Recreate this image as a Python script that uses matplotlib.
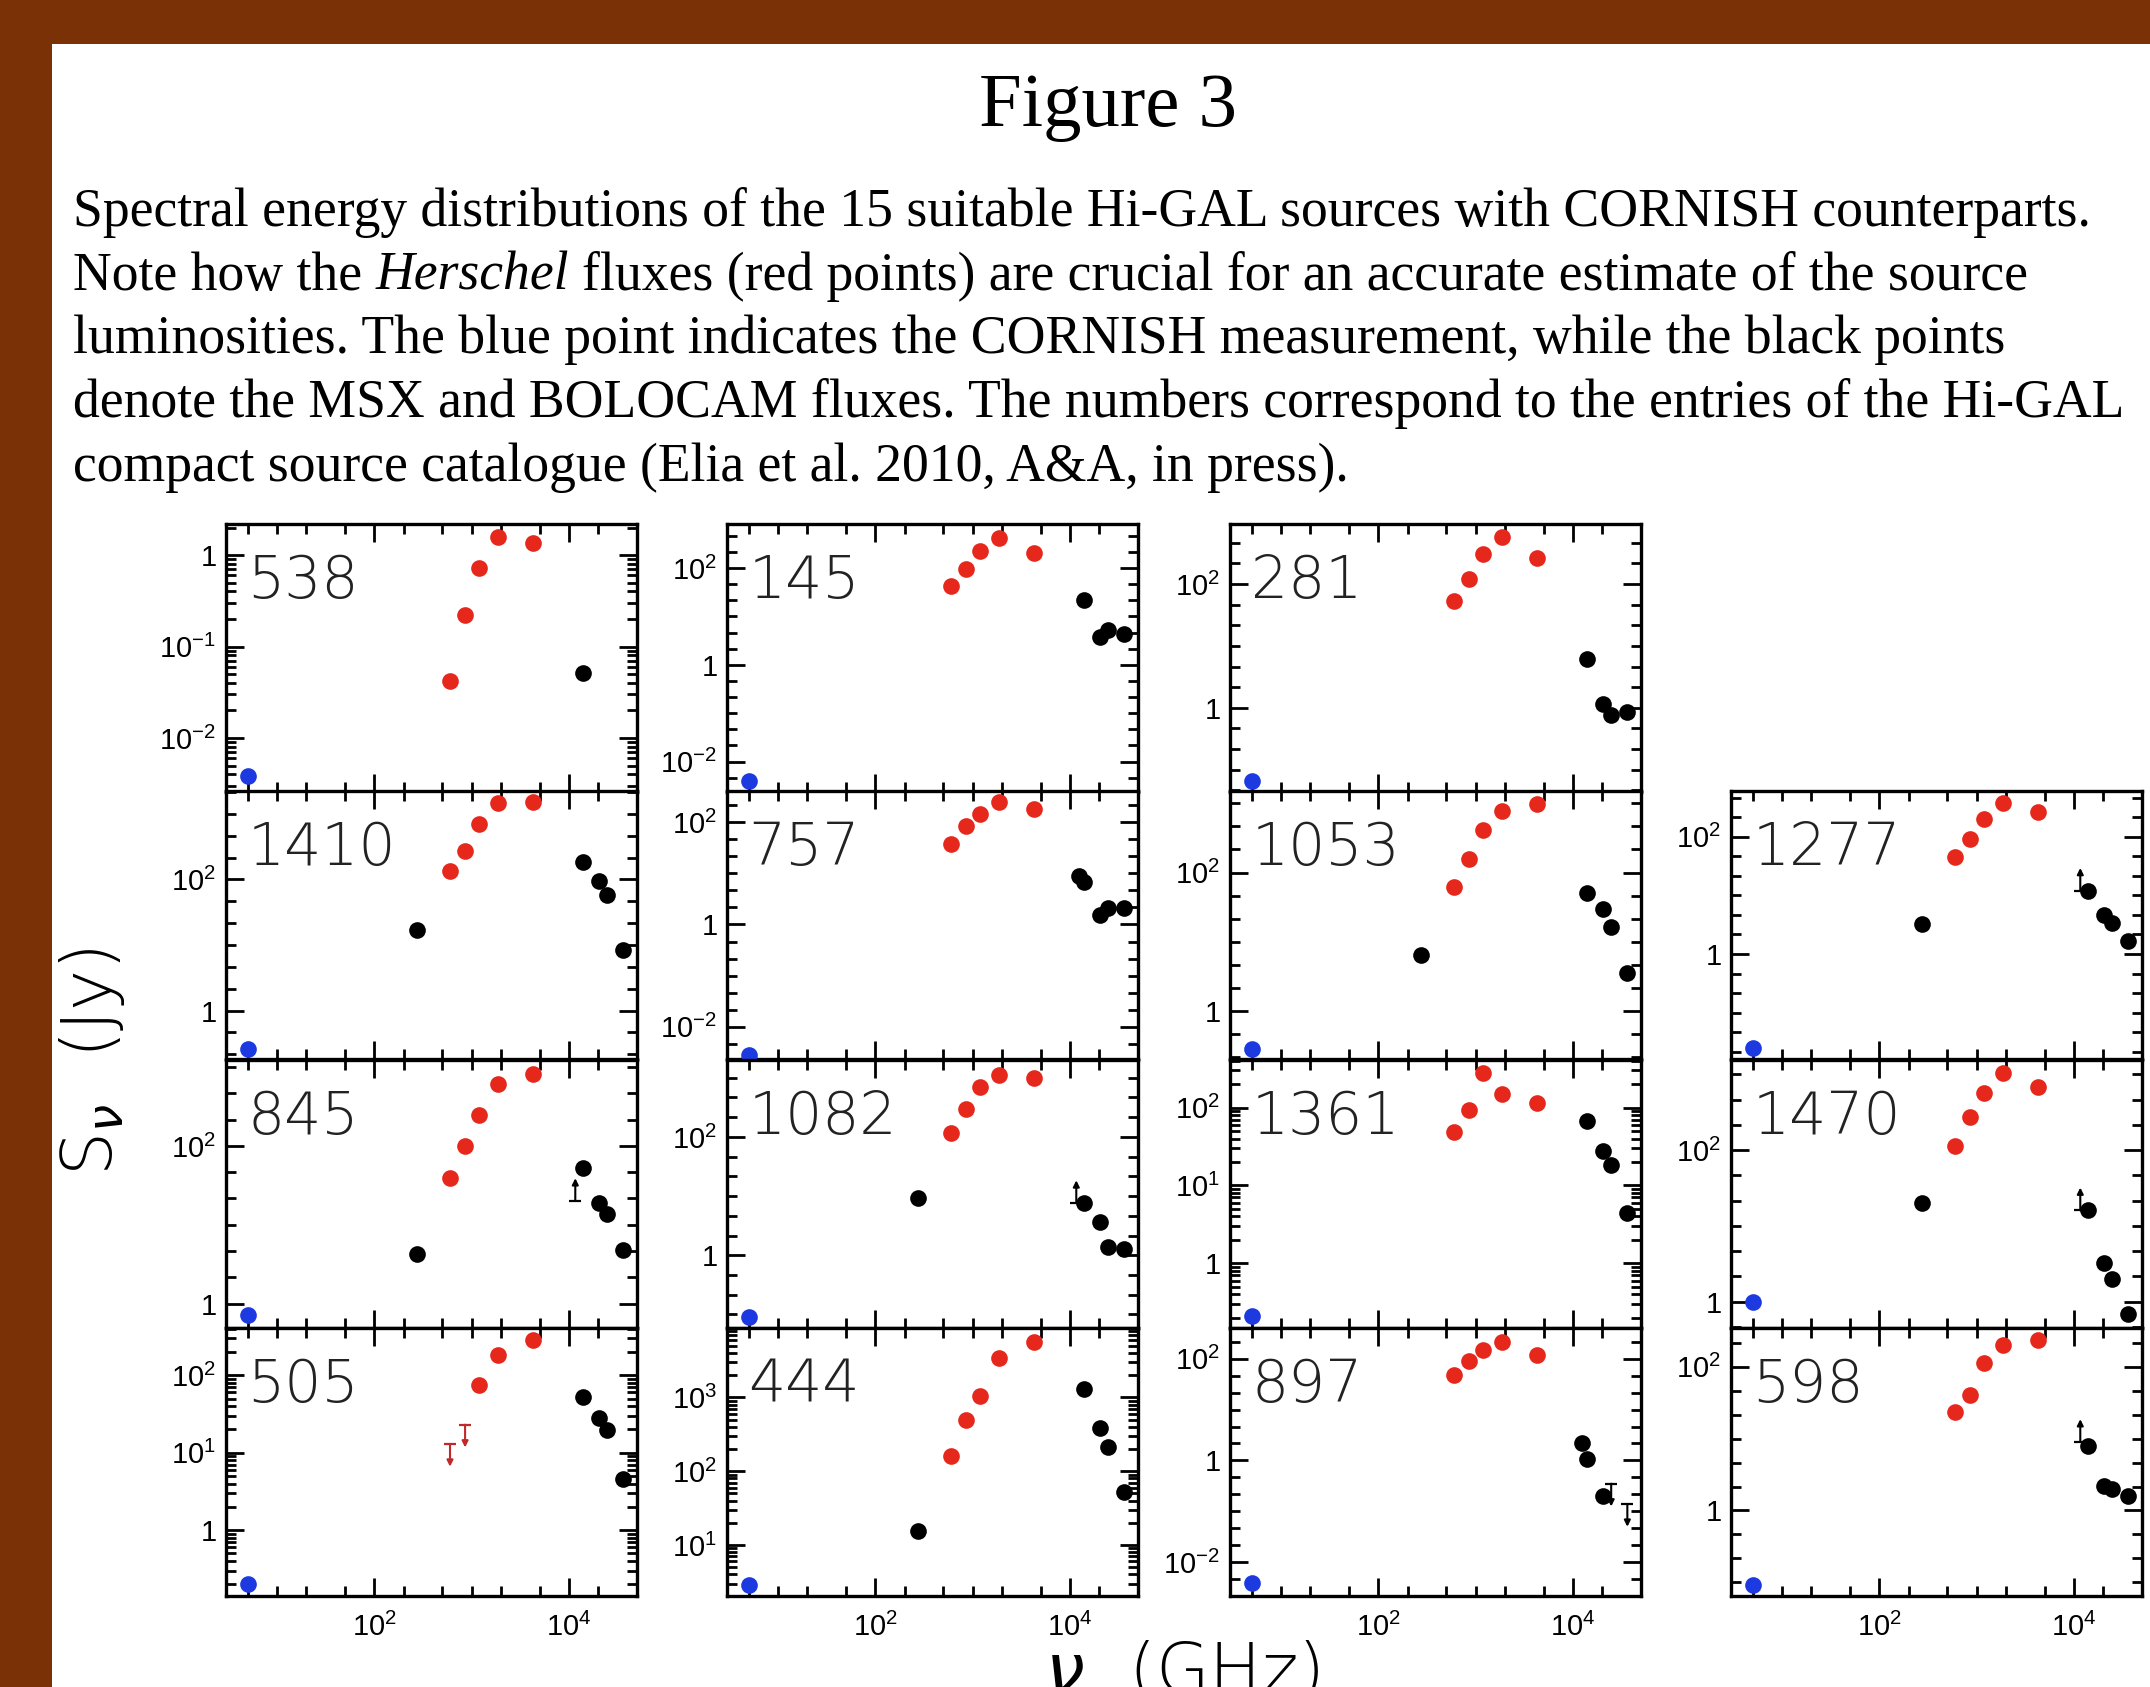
import numpy as np
import matplotlib
matplotlib.use("Agg")
import matplotlib.pyplot as plt
from matplotlib.ticker import FixedLocator, FuncFormatter, NullFormatter
from matplotlib.patches import Rectangle

# ------------------------------------------------------------------ data
SOURCES = [538, 145, 281, 1410, 757, 1053, 1277, 845, 1082, 1361, 1470, 505, 444, 897, 598]

FREQ_CORNISH = 5.0                                  # GHz
FREQ_HERSCHEL = [600, 857, 1199, 1874, 4283]        # 500,350,250,160,70 um
FREQ_BOLOCAM = 273                                  # 1.1 mm
FREQ_MIPS = 12490                                   # 24 um
FREQ_MSX = [14100, 20500, 24700, 36200]             # 21,15,12,8 um

CORNISH_FLUX = [0.0038, 0.0039, 0.065, 0.26, 0.0028, 0.28, 0.025,
                0.71, 0.091, 0.21, 1.0, 0.2, 2.9, 0.004, 0.091]

HERSCHEL_FLUX = [
    [0.042, 0.22, 0.73, 1.58, 1.36],     # 538
    [42, 97, 227, 426, 208],             # 145
    [53, 122, 310, 570, 265],            # 281
    [137, 275, 700, 1450, 1500],         # 1410
    [38, 85, 143, 243, 185],             # 757
    [62, 156, 410, 765, 990],            # 1053
    [45, 92, 202, 378, 269],             # 1277
    [39, 100, 250, 610, 810],            # 845
    [118, 295, 690, 1130, 990],          # 1082
    [48, 92, 277, 150, 113],             # 1361
    [112, 272, 570, 1030, 690],          # 1470
    [None, None, 74, 185, 285],          # 505
    [161, 490, 1040, 3370, 5600],        # 444
    [48, 91, 145, 210, 120],             # 897
    [23.6, 41, 112, 204, 233],           # 598
]
HERSCHEL_UPPER = [None] * 11 + [[13, 23, None, None, None]] + [None] * 3

BOLOCAM_FLUX = [None, None, None, 17, None, 6.4, 3.2, 4.2, 9.1, None, 20, None, 15.5, None, None]
MIPS_FLUX = [None, None, None, None, 8.9, None, None, None, None, None, None, None, None, 2.2, None]
MIPS_LOWER = [None, None, None, None, None, None, 12, 20, 7.6, None, 16, None, None, None, 9.0]

MSX_FLUX = [
    [0.051, None, None, None],           # 538
    [22, 3.8, 5.3, 4.3],                 # 145
    [6.1, 1.15, 0.76, 0.87],             # 281
    [187, 94, 57, 8.3],                  # 1410
    [6.9, 1.5, 2.1, 2.1],                # 757
    [50, 30, 16, 3.5],                   # 1053
    [12, 4.6, 3.4, 1.7],                 # 1277
    [52, 19, 13.5, 4.8],                 # 845
    [7.6, 3.6, 1.38, 1.28],              # 1082
    [67, 28, 18.4, 4.4],                 # 1361
    [16, 3.2, 2.0, 0.69],                # 1470
    [52, 28, 19.6, 4.6],                 # 505
    [1290, 385, 215, 53],                # 444
    [1.07, 0.20, None, None],            # 897
    [8.0, 2.2, 2.0, 1.6],                # 598
]
MSX_UPPER = [None] * 13 + [[None, None, 0.35, 0.14]] + [None]

# y ranges (log10) and labelled decades of every panel
YLIM_LOG = [(-2.59, 0.34), (-2.63, 2.91), (-1.36, 2.97), (-0.74, 3.35), (-2.63, 2.61),
            (-0.70, 3.18), (-1.79, 2.78), (-0.31, 3.09), (-1.23, 3.30), (-0.83, 2.61),
            (-0.35, 3.19), (-0.85, 2.61), (0.31, 3.94), (-2.66, 2.60), (-1.19, 2.54)]
YLABEL_DECADES = [[-2, -1, 0], [-2, 0, 2], [0, 2], [0, 2], [-2, 0, 2], [0, 2], [0, 2], [0, 2],
                  [0, 2], [0, 1, 2], [0, 2], [0, 1, 2], [1, 2, 3], [-2, 0, 2], [0, 2]]
XLIM = (3.0, 5.0e4)
X_MAJOR = [1e2, 1e4]
X_MINOR = [5, 10, 20, 50, 200, 500, 1e3, 2e3, 5e3, 2e4]

TITLE = "Figure 3"
CAPTION = [
    "Spectral energy distributions of the 15 suitable Hi-GAL sources with CORNISH counterparts.",
    ("Note how the", "Herschel", "fluxes (red points) are crucial for an accurate estimate of the source"),
    "luminosities. The blue point indicates the CORNISH measurement, while the black points",
    "denote the MSX and BOLOCAM fluxes. The numbers correspond to the entries of the Hi-GAL",
    "compact source catalogue (Elia et al. 2010, A&A, in press).",
]

# ------------------------------------------------------------------ style / layout
W, H = 2150, 1687
RED, BLUE, BLACK = "#e6281c", "#1c3ae0", "#000000"
BG = "#7a3106"
COL_LEFT = [226, 727, 1230, 1731]
ROW_TOP = [524, 791, 1060, 1328]
PW, PH = 411, 268
SLOTS = [(0, 0), (0, 1), (0, 2), (1, 0), (1, 1), (1, 2), (1, 3), (2, 0), (2, 1), (2, 2), (2, 3),
         (3, 0), (3, 1), (3, 2), (3, 3)]

plt.rcParams["mathtext.fontset"] = "dejavusans"

fig = plt.figure(figsize=(W / 100, H / 100), dpi=100)
fig.patch.set_facecolor(BG)
fig.add_artist(Rectangle((52 / W, 0), 1 - 52 / W, 1 - 44 / H, transform=fig.transFigure,
                         facecolor="white", edgecolor="none", zorder=0))

renderer = fig.canvas.get_renderer()
SERIF = "Liberation Serif"

# title
tt = fig.text(1108 / W, 1 - 126 / H, TITLE, family=SERIF, fontsize=56, ha="center", va="baseline")
tw = tt.get_window_extent(renderer).width
tt.set_fontsize(56 * 258 / tw)

# caption
x0 = 73
baselines = [226, 290, 353, 417, 481]
probe = fig.text(0, 0, CAPTION[0], family=SERIF, fontsize=36)
cfs = 36 * 2014 / probe.get_window_extent(renderer).width
probe.remove()


def twidth(s, **kw):
    t = fig.text(0, 0, s, family=SERIF, fontsize=cfs, **kw)
    w = t.get_window_extent(renderer).width
    t.remove()
    return w


space_w = twidth("a a") - twidth("aa")
for line, yb in zip(CAPTION, baselines):
    if isinstance(line, tuple):
        xx = x0
        for k, piece in enumerate(line):
            style = "italic" if k == 1 else "normal"
            fig.text(xx / W, 1 - yb / H, piece, family=SERIF, fontsize=cfs, style=style,
                     va="baseline")
            xx += twidth(piece, style=style) + space_w
    else:
        fig.text(x0 / W, 1 - yb / H, line, family=SERIF, fontsize=cfs, va="baseline")


def pow_fmt(v, pos=None):
    k = int(round(np.log10(v)))
    if k == 0:
        return r"$\mathregular{1}$"
    return r"$\mathregular{10^{%d}}$" % k


def limit_arrow(ax, x, y, up, color, span):
    d = 0.085 * span
    tip = y * 10 ** (d if up else -d)
    ax.annotate("", xy=(x, tip), xytext=(x, y),
                arrowprops=dict(arrowstyle="-|>", color=color, lw=1.5, mutation_scale=9,
                                shrinkA=0, shrinkB=0), annotation_clip=False, zorder=4)
    ax.plot([x], [y], marker="_", ms=8, mew=1.6, color=color, zorder=4, clip_on=False)


TICKFONT = "Liberation Sans"
NUMFONT = "DejaVu Sans"

for i, src in enumerate(SOURCES):
    r, c = SLOTS[i]
    left, top = COL_LEFT[c], ROW_TOP[r]
    ax = fig.add_axes([left / W, 1 - (top + PH) / H, PW / W, PH / H])
    ax.set_xscale("log")
    ax.set_yscale("log")
    lo, hi = YLIM_LOG[i]
    ax.set_xlim(*XLIM)
    ax.set_ylim(10 ** lo, 10 ** hi)
    span = hi - lo
    ms = 12

    # Herschel
    hx = [f for f, v in zip(FREQ_HERSCHEL, HERSCHEL_FLUX[i]) if v is not None]
    hy = [v for v in HERSCHEL_FLUX[i] if v is not None]
    ax.plot(hx, hy, "o", color=RED, ms=ms, mec="none", zorder=3, clip_on=False)
    if HERSCHEL_UPPER[i]:
        for f, v in zip(FREQ_HERSCHEL, HERSCHEL_UPPER[i]):
            if v is not None:
                limit_arrow(ax, f, v, False, "#c0282a", span)
    # CORNISH
    ax.plot([FREQ_CORNISH], [CORNISH_FLUX[i]], "o", color=BLUE, ms=ms, mec="none", zorder=3,
            clip_on=False)
    # BOLOCAM / MIPS / MSX
    bx, by = [], []
    if BOLOCAM_FLUX[i] is not None:
        bx.append(FREQ_BOLOCAM); by.append(BOLOCAM_FLUX[i])
    if MIPS_FLUX[i] is not None:
        bx.append(FREQ_MIPS); by.append(MIPS_FLUX[i])
    for f, v in zip(FREQ_MSX, MSX_FLUX[i]):
        if v is not None:
            bx.append(f); by.append(v)
    ax.plot(bx, by, "o", color=BLACK, ms=ms, mec="none", zorder=3, clip_on=False)
    if MIPS_LOWER[i] is not None:
        limit_arrow(ax, FREQ_MIPS * 0.93, MIPS_LOWER[i], True, BLACK, span)
    if MSX_UPPER[i]:
        for f, v in zip(FREQ_MSX, MSX_UPPER[i]):
            if v is not None:
                limit_arrow(ax, f, v, False, BLACK, span)

    # panel number
    ax.text(0.052, 0.725, str(src), transform=ax.transAxes, fontsize=42, family=NUMFONT,
            fontweight="light", color="#222222", va="baseline", ha="left", zorder=2)

    # ticks
    for s in ax.spines.values():
        s.set_linewidth(2.4)
    ax.tick_params(which="both", direction="in", top=True, right=True, width=2.0, color="black")
    ax.tick_params(which="major", length=13)
    ax.tick_params(which="minor", length=7)
    ax.tick_params(axis="y", which="major", pad=7, labelsize=21)
    ax.tick_params(axis="x", which="major", pad=12, labelsize=21)

    ax.xaxis.set_major_locator(FixedLocator(X_MAJOR))
    ax.xaxis.set_minor_locator(FixedLocator(X_MINOR))
    ax.xaxis.set_minor_formatter(NullFormatter())
    if r == 3:
        ax.xaxis.set_major_formatter(FuncFormatter(pow_fmt))
    else:
        ax.xaxis.set_major_formatter(NullFormatter())

    decs = YLABEL_DECADES[i]
    ax.yaxis.set_major_locator(FixedLocator([10.0 ** k for k in decs]))
    dense = all(b - a == 1 for a, b in zip(decs[:-1], decs[1:]))
    minor = []
    if dense:
        for k in range(int(np.floor(lo)), int(np.ceil(hi)) + 1):
            for m in range(1, 10):
                v = m * 10.0 ** k
                if lo <= np.log10(v) <= hi and not (m == 1 and k in decs):
                    minor.append(v)
    else:
        for k3 in range(int(np.floor(lo * 3)), int(np.ceil(hi * 3)) + 1):
            lv = k3 / 3.0
            if lo <= lv <= hi and not any(abs(lv - d) < 1e-6 for d in decs):
                minor.append(10 ** lv)
    ax.yaxis.set_minor_locator(FixedLocator(minor))
    ax.yaxis.set_minor_formatter(NullFormatter())
    ax.yaxis.set_major_formatter(FuncFormatter(pow_fmt))
    for lab in ax.get_xticklabels() + ax.get_yticklabels():
        lab.set_family(TICKFONT)

# axis titles
fig.text(92 / W, 1 - 1062 / H, r"S$_\nu$  (Jy)", rotation=90, family="DejaVu Sans",
         fontweight="light", fontsize=50, ha="center", va="center")
fig.text(1182 / W, 1 - 1640 / H, r"$\nu$  (GHz)", family="DejaVu Sans", fontweight="light",
         fontsize=50, ha="center", va="top")

fig.savefig("out.png", dpi=100, facecolor=fig.get_facecolor())
